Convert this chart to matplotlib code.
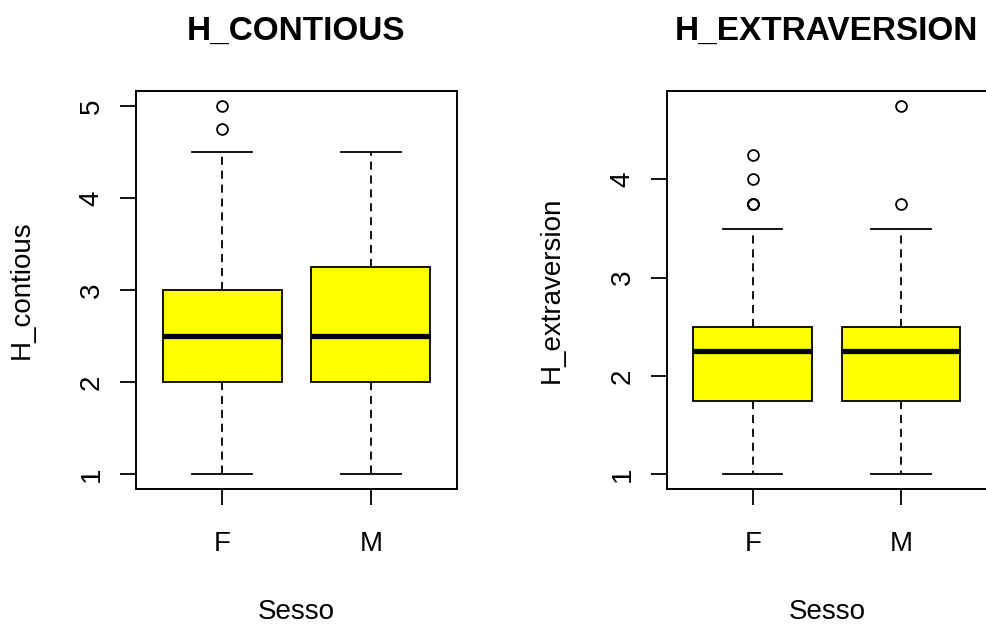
import matplotlib
matplotlib.use("Agg")
import matplotlib.pyplot as plt

plt.rcParams['font.family'] = ['Liberation Sans', 'DejaVu Sans']

# five-number summaries per sex, as produced by boxplot(... ~ Sesso)
groups = ['F', 'M']

contious_whislo = [1.0, 1.0]
contious_q1 = [2.0, 2.0]
contious_med = [2.5, 2.5]
contious_q3 = [3.0, 3.25]
contious_whishi = [4.5, 4.5]
contious_fliers = [[4.75, 5.0], []]

extra_whislo = [1.0, 1.0]
extra_q1 = [1.75, 1.75]
extra_med = [2.25, 2.25]
extra_q3 = [2.5, 2.5]
extra_whishi = [3.5, 3.5]
extra_fliers = [[3.75, 3.75, 3.75, 4.0, 4.25], [3.75, 4.75]]

LW = 1.3


def make_stats(lo, q1, med, q3, hi, fliers):
    return [dict(label=g, whislo=lo[i], q1=q1[i], med=med[i], q3=q3[i],
                 whishi=hi[i], fliers=fliers[i]) for i, g in enumerate(groups)]


def r_boxplot(ax, stats, title, ylabel, ylim, yticks):
    ax.bxp(stats, positions=[1, 2], widths=0.8, capwidths=0.4,
           patch_artist=True, showfliers=True,
           boxprops=dict(facecolor='#ffff00', edgecolor='black', linewidth=LW),
           medianprops=dict(color='black', linewidth=3.8, solid_capstyle='butt'),
           whiskerprops=dict(color='black', linewidth=LW, linestyle=(0, (4.5, 3.2))),
           capprops=dict(color='black', linewidth=LW),
           flierprops=dict(marker='o', markersize=7.8, markerfacecolor='none',
                           markeredgecolor='black', markeredgewidth=LW))
    ax.set_xlim(0.42, 2.58)
    ax.set_ylim(*ylim)
    ax.set_xticks([1, 2])
    ax.set_xticklabels(groups)
    ax.set_yticks(yticks)
    ax.set_yticklabels([str(t) for t in yticks], rotation=90, va='center')
    ax.tick_params(axis='both', direction='out', length=11.5, width=LW,
                   labelsize=20, color='black')
    ax.tick_params(axis='x', pad=18.5)
    ax.tick_params(axis='y', pad=11)
    for s in ax.spines.values():
        s.set_linewidth(1.4)
    ax.set_title(title, fontsize=24, fontweight='bold', pad=37)
    ax.set_xlabel('Sesso', fontsize=20, va='center')
    ax.xaxis.set_label_coords(0.5, -0.308)
    ax.set_ylabel(ylabel, fontsize=20, va='center')


fig = plt.figure(figsize=(9.86, 6.3), dpi=100)
ax1 = fig.add_axes([0.1379, 0.2238, 0.3256, 0.6317])
ax2 = fig.add_axes([0.6762, 0.2238, 0.3249, 0.6317])

r_boxplot(ax1, make_stats(contious_whislo, contious_q1, contious_med,
                          contious_q3, contious_whishi, contious_fliers),
          'H_CONTIOUS', 'H_contious', (0.84, 5.16), [1, 2, 3, 4, 5])
ax1.yaxis.set_label_coords(-0.356, 0.5)

r_boxplot(ax2, make_stats(extra_whislo, extra_q1, extra_med,
                          extra_q3, extra_whishi, extra_fliers),
          'H_EXTRAVERSION', 'H_extraversion', (0.85, 4.9), [1, 2, 3, 4])
ax2.yaxis.set_label_coords(-0.359, 0.5)

fig.savefig('out.png', dpi=100)
